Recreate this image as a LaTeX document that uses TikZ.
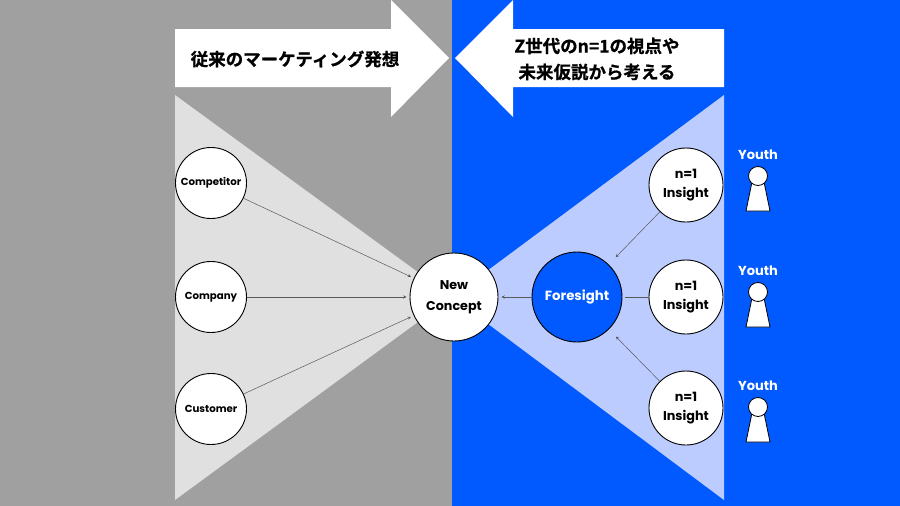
\documentclass[tikz,border=0pt]{standalone}
\usepackage{fontspec}
\setmainfont{Poppins}
\newfontfamily\jp{Noto Sans CJK JP}[BoldFont=* Bold, BoldFeatures={FakeBold=0.8}]
\usepackage{tikz}
\definecolor{bgblue}{RGB}{0,90,255}
\definecolor{bggray}{RGB}{160,160,160}
\definecolor{litegray}{RGB}{224,224,224}
\definecolor{liteblue}{RGB}{188,204,255}
\newcommand\fs[1]{\fontsize{#1}{1.2\dimexpr#1pt\relax}\selectfont}

\begin{document}
\begin{tikzpicture}[x=1pt, y=-1pt, main/.style = {draw, circle, fill=white, line width=0.9pt, inner sep=0pt, align=center, font=\bfseries}, link/.style = {->, >=stealth, line width=0.5pt, draw=black!65, shorten >=3pt}]
	\useasboundingbox (0,0) rectangle (900,506);
	% backgrounds
	\fill[bggray] (0,0) rectangle (452,506);
	\fill[bgblue] (452,0) rectangle (900,506);
	\fill[litegray] (175,95) -- (452,297) -- (175,500) -- cycle;
	\fill[liteblue] (724,95) -- (452,297) -- (724,500) -- cycle;
	% big arrows
	\fill[white] (175,29) -- (391,29) -- (391,0) -- (449,58) -- (391,117) -- (391,87) -- (175,87) -- cycle;
	\fill[white] (724,29) -- (513,29) -- (513,0) -- (455,58) -- (513,117) -- (513,87) -- (724,87) -- cycle;
	\node[font=\jp\bfseries\fs{17.5}] (T1) at (295,59) {従来のマーケティング発想};
	\node[font=\jp\bfseries\fs{17.5}, align=center, inner sep=0pt] (T2) at (597,59) {Z世代のn=1の視点や\\[5pt]未来仮説から考える};
	% circles
	\node[main, minimum size=71pt, font=\bfseries\fs{10.2}] (A) at (211,183){Competitor};
	\node[main, minimum size=71pt, font=\bfseries\fs{10.2}] (B) at (211,297){Company};
	\node[main, minimum size=71pt, font=\bfseries\fs{10.2}] (C) at (211,409){Customer};
	\node[main, minimum size=88pt, font=\bfseries\fs{12.7}] (N) at (454,297){New\\[6pt]Concept};
	\node[main, minimum size=90pt, fill=bgblue, text=white, font=\bfseries\fs{13.3}] (F) at (577,297){Foresight};
	\node[main, minimum size=74pt, font=\bfseries\fs{12.8}] (I1) at (686,185){n=1\\[4pt]Insight};
	\node[main, minimum size=74pt, font=\bfseries\fs{12.8}] (I2) at (686,297){n=1\\[4pt]Insight};
	\node[main, minimum size=74pt, font=\bfseries\fs{12.8}] (I3) at (686,408){n=1\\[4pt]Insight};
	\draw[link] (A) -- (N);
	\draw[link] (B) -- (N);
	\draw[link] (C) -- (N);
	\draw[link] (F) -- (N);
	\draw[link, shorten >=10pt] (I1) -- (F);
	\draw[link, -] (I2) -- (F);
	\draw[link, shorten >=10pt] (I3) -- (F);
	% youth
	\foreach \y/\n in {176/1, 292/2, 407/3}{
		\node[text=white, font=\bfseries\fs{13}] (Y\n) at (758,\y-21){Youth};
		\draw[fill=white, line width=0.8pt] (752,\y+6) -- (764,\y+6) -- (770,\y+35) -- (746,\y+35) -- cycle;
		\draw[fill=white, line width=0.8pt] (758,\y) circle (9.5);
	}
\end{tikzpicture}
\end{document}
